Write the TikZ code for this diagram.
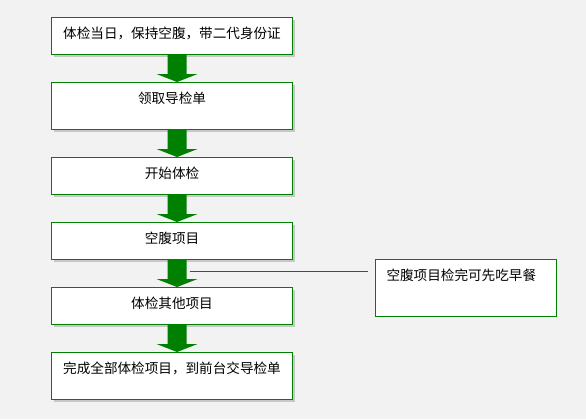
\documentclass[tikz,border=0pt]{standalone}
\usepackage{fontspec}
\newfontfamily\cjk{Noto Sans CJK SC}
\usetikzlibrary{calc,shadows}
\definecolor{flowgreen}{RGB}{0,128,0}
\definecolor{canvas}{RGB}{242,242,242}
\newcommand\blockarrow[2]{\fill[flowgreen] ($(#1.south)+(-4.5,0)$)--($(#1.south)+(14.5,0)$)--($(#2.north)+(14.5,-8)$)--($(#2.north)+(25.5,-8)$)--($(#2.north)+(5,0)$)--($(#2.north)+(-15.5,-8)$)--($(#2.north)+(-4.5,-8)$)--cycle;}
\begin{document}
\begin{tikzpicture}[x=0.75pt, y=-0.75pt, font=\cjk\fontsize{10.2}{12}\selectfont,
	stage/.style={draw=flowgreen, line width=0.8pt, fill=white, anchor=north west, inner sep=0pt, minimum width=180.75pt, text height=15.75pt, text depth=12pt, drop shadow={shadow xshift=1.5pt, shadow yshift=-1.5pt, fill=black!22, opacity=1}},
	tall/.style={text depth=19.5pt},
	note/.style={draw=flowgreen, line width=0.8pt, fill=white, anchor=north west, inner xsep=8.25pt, inner ysep=0pt, text width=119.25pt, align=left, text height=15.75pt, text depth=27pt}]
				\fill[canvas] (0,0) rectangle (586,419);
				\node[stage] (b1) at (51,17) {体检当日，保持空腹，带二代身份证};
				\node[stage,tall] (b2) at (51,82) {领取导检单};
				\node[stage] (b3) at (51,157) {开始体检};
				\node[stage] (b4) at (51,222) {空腹项目};
				\node[stage] (b5) at (51,287) {体检其他项目};
				\node[stage,tall] (b6) at (51,352) {完成全部体检项目，到前台交导检单};
				\node[note] (side) at (375,259) {空腹项目检完可先吃早餐};
				\blockarrow{b1}{b2}
				\blockarrow{b2}{b3}
				\blockarrow{b3}{b4}
				\blockarrow{b4}{b5}
				\blockarrow{b5}{b6}
				\coordinate (tap) at ($(b4.south)+(17.5,11)$);
				\draw[flowgreen, line width=0.8pt, shorten >=5.25pt] (tap) -- (tap -| side.west);
			\end{tikzpicture}
\end{document}
